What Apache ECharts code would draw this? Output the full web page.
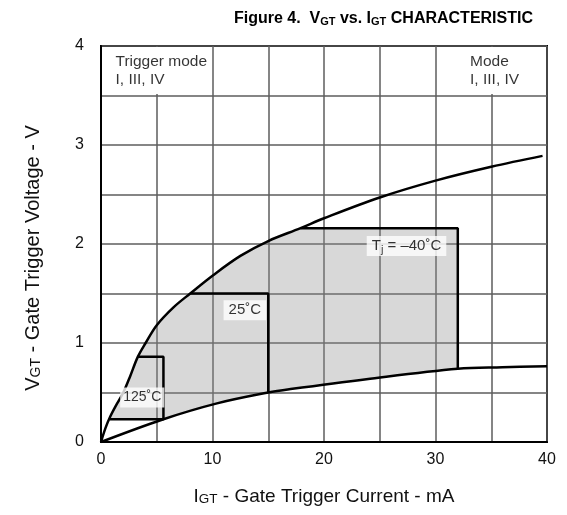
<!DOCTYPE html>
<html>
<head>
<meta charset="utf-8">
<script src="https://cdn.jsdelivr.net/npm/echarts@6/dist/echarts.min.js"></script>
<style>html,body{margin:0;padding:0;background:#fff}#c{width:567px;height:515px}</style>
</head>
<body>
<div id="c"></div>
<script>
// ---- data ----
const xTicks = [0, 10, 20, 30, 40];          // IGT (mA)
const yTicks = [0, 1, 2, 3, 4];              // VGT (V)
// upper boundary curve
const upperX = [0, 0.4, 0.8, 1.4, 2.0, 2.6, 3.3, 4.0, 5.0, 6.5, 8.0, 10, 12.5, 15, 17.9, 20, 25, 30, 35, 39.6];
const upperV = [0, 0.14, 0.25, 0.38, 0.50, 0.66, 0.86, 1.0, 1.18, 1.36, 1.50, 1.68, 1.88, 2.03, 2.16, 2.26, 2.47, 2.64, 2.78, 2.89];
// lower boundary curve
const lowerX = [0, 5.6, 10.4, 15, 17, 23.8, 32, 36, 40];
const lowerV = [0, 0.23, 0.39, 0.50, 0.535, 0.635, 0.74, 0.755, 0.765];
// temperature boxes
const box125X = [3.3, 5.6, 5.6, 0.8];
const box125V = [0.86, 0.86, 0.23, 0.23];
const box25X = [8.0, 15, 15];
const box25V = [1.5, 1.5, 0.50];
const box40X = [17.9, 32, 32];
const box40V = [2.16, 2.16, 0.74];
// labels
const tempLabels = ['125˚C', '25˚C', 'T{j|j} = –40˚C'];
const tempLabelX = [3.7, 12.9, 27.4];
const tempLabelV = [0.45, 1.33, 1.98];
const modeLabels = ['Trigger mode\nI, III, IV', 'Mode\nI, III, IV'];
const modeLabelX = [1.3, 33.1];
const modeLabelV = [3.75, 3.75];

const FONT = "'Liberation Sans', Arial, Helvetica, sans-serif";
const pairs = (xs, vs) => xs.map((x, i) => [x, vs[i]]);

// shaded region polygon built from the curves and boxes
const shadePts = [[box125X[3], box125V[3]]];
upperX.forEach((x, i) => { if (x > box125X[3] && x < box40X[0]) shadePts.push([x, upperV[i]]); });
shadePts.push([box40X[0], box40V[0]], [box40X[1], box40V[1]], [box40X[2], box40V[2]]);
for (let i = lowerX.length - 1; i >= 0; i--) {
  if (lowerX[i] < box40X[2] && lowerX[i] > box125X[1]) shadePts.push([lowerX[i], lowerV[i]]);
}
shadePts.push([box125X[1], box125V[2]]);

const blackLine = { color: '#000', width: 2.5 };
const lineSeries = (xs, vs, smooth) => ({
  type: 'line', data: pairs(xs, vs), showSymbol: false, symbol: 'none', smooth: smooth,
  lineStyle: blackLine, z: 3, silent: true, animation: false
});
const gridLine = { color: '#5e5e5e', width: 1.5 };

const chart = echarts.init(document.getElementById('c'), null, { renderer: 'canvas' });
chart.setOption({
  animation: false,
  backgroundColor: '#fff',
  textStyle: { fontFamily: FONT },
  title: {
    text: 'Figure 4.  V{s|GT} vs. I{s|GT} CHARACTERISTIC',
    right: 34, top: 11, padding: 0,
    textStyle: {
      fontFamily: FONT, fontSize: 16, fontWeight: 'bold', color: '#000',
      rich: { s: { fontFamily: FONT, fontSize: 11, fontWeight: 'bold', color: '#000', verticalAlign: 'bottom' } }
    }
  },
  grid: { left: 101, right: 20, top: 46, bottom: 73, show: true, borderColor: '#000', borderWidth: 2, backgroundColor: 'transparent' },
  xAxis: {
    type: 'value', min: xTicks[0], max: xTicks[xTicks.length - 1], interval: 10,
    axisLine: { show: true, lineStyle: { color: '#000', width: 2 } },
    axisTick: { show: false },
    axisLabel: { fontFamily: FONT, fontSize: 16, color: '#111', margin: 10 },
    splitLine: { show: true, lineStyle: gridLine },
    minorTick: { show: false, splitNumber: 2 },
    minorSplitLine: { show: true, lineStyle: gridLine },
    name: 'I{s|GT} - Gate Trigger Current - mA', nameLocation: 'middle', nameGap: 45,
    nameTextStyle: { fontFamily: FONT, fontSize: 19, color: '#111', rich: { s: { fontFamily: FONT, fontSize: 13.5, color: '#111', verticalAlign: 'bottom' } } }
  },
  yAxis: {
    type: 'value', min: yTicks[0], max: yTicks[yTicks.length - 1], interval: 1,
    axisLine: { show: true, lineStyle: { color: '#000', width: 2 } },
    axisTick: { show: false },
    axisLabel: { fontFamily: FONT, fontSize: 16, color: '#111', margin: 17 },
    splitLine: { show: true, lineStyle: gridLine },
    minorTick: { show: false, splitNumber: 2 },
    minorSplitLine: { show: true, lineStyle: gridLine },
    name: 'V{s|GT} - Gate Trigger Voltage - V', nameLocation: 'middle', nameGap: 58,
    nameTextStyle: {
      fontFamily: FONT, fontSize: 20, color: '#111', padding: [0, 28, 0, 0],
      rich: { s: { fontFamily: FONT, fontSize: 14, color: '#111', verticalAlign: 'bottom' } }
    }
  },
  series: [
    {
      type: 'custom', z: 1, silent: true, animation: false,
      data: [[0, 0]], encode: { x: 0, y: 1 },
      renderItem: (params, api) => ({
        type: 'polygon',
        shape: { points: shadePts.map(p => api.coord(p)) },
        style: { fill: 'rgba(140,140,140,0.34)' }
      }),
      markArea: {
        silent: true, itemStyle: { color: '#fff' },
        data: [
          [{ coord: [0.25, 3.515] }, { coord: [9.75, 3.99] }],
          [{ coord: [30.25, 3.515] }, { coord: [39.75, 3.99] }]
        ]
      }
    },
    lineSeries(upperX, upperV, 0.35),
    lineSeries(lowerX, lowerV, 0.35),
    lineSeries(box125X, box125V, false),
    lineSeries(box25X, box25V, false),
    lineSeries(box40X, box40V, false),
    {
      type: 'scatter', z: 6, silent: true, animation: false,
      symbolSize: 1, itemStyle: { color: 'rgba(0,0,0,0)' },
      data: tempLabelX.map((x, i) => ({
        value: [x, tempLabelV[i]],
        label: {
          show: true, position: 'inside', formatter: tempLabels[i],
          fontFamily: FONT, fontSize: i === 0 ? 14 : 15, color: '#000',
          backgroundColor: '#fff', padding: i === 0 ? [1, 3] : [1, 5], lineHeight: 18,
          rich: { j: { fontFamily: FONT, fontSize: 11, color: '#000', verticalAlign: 'bottom', padding: [8, 0, 0, 0] } }
        }
      }))
    },
    {
      type: 'scatter', z: 6, silent: true, animation: false,
      symbolSize: 1, itemStyle: { color: 'rgba(0,0,0,0)' },
      data: modeLabelX.map((x, i) => ({
        value: [x, modeLabelV[i]],
        label: {
          show: true, position: 'inside', formatter: modeLabels[i], align: 'left', verticalAlign: 'middle',
          fontFamily: FONT, fontSize: 15.5, lineHeight: 18, color: '#000'
        }
      }))
    }
  ]
});
</script>
</body>
</html>
